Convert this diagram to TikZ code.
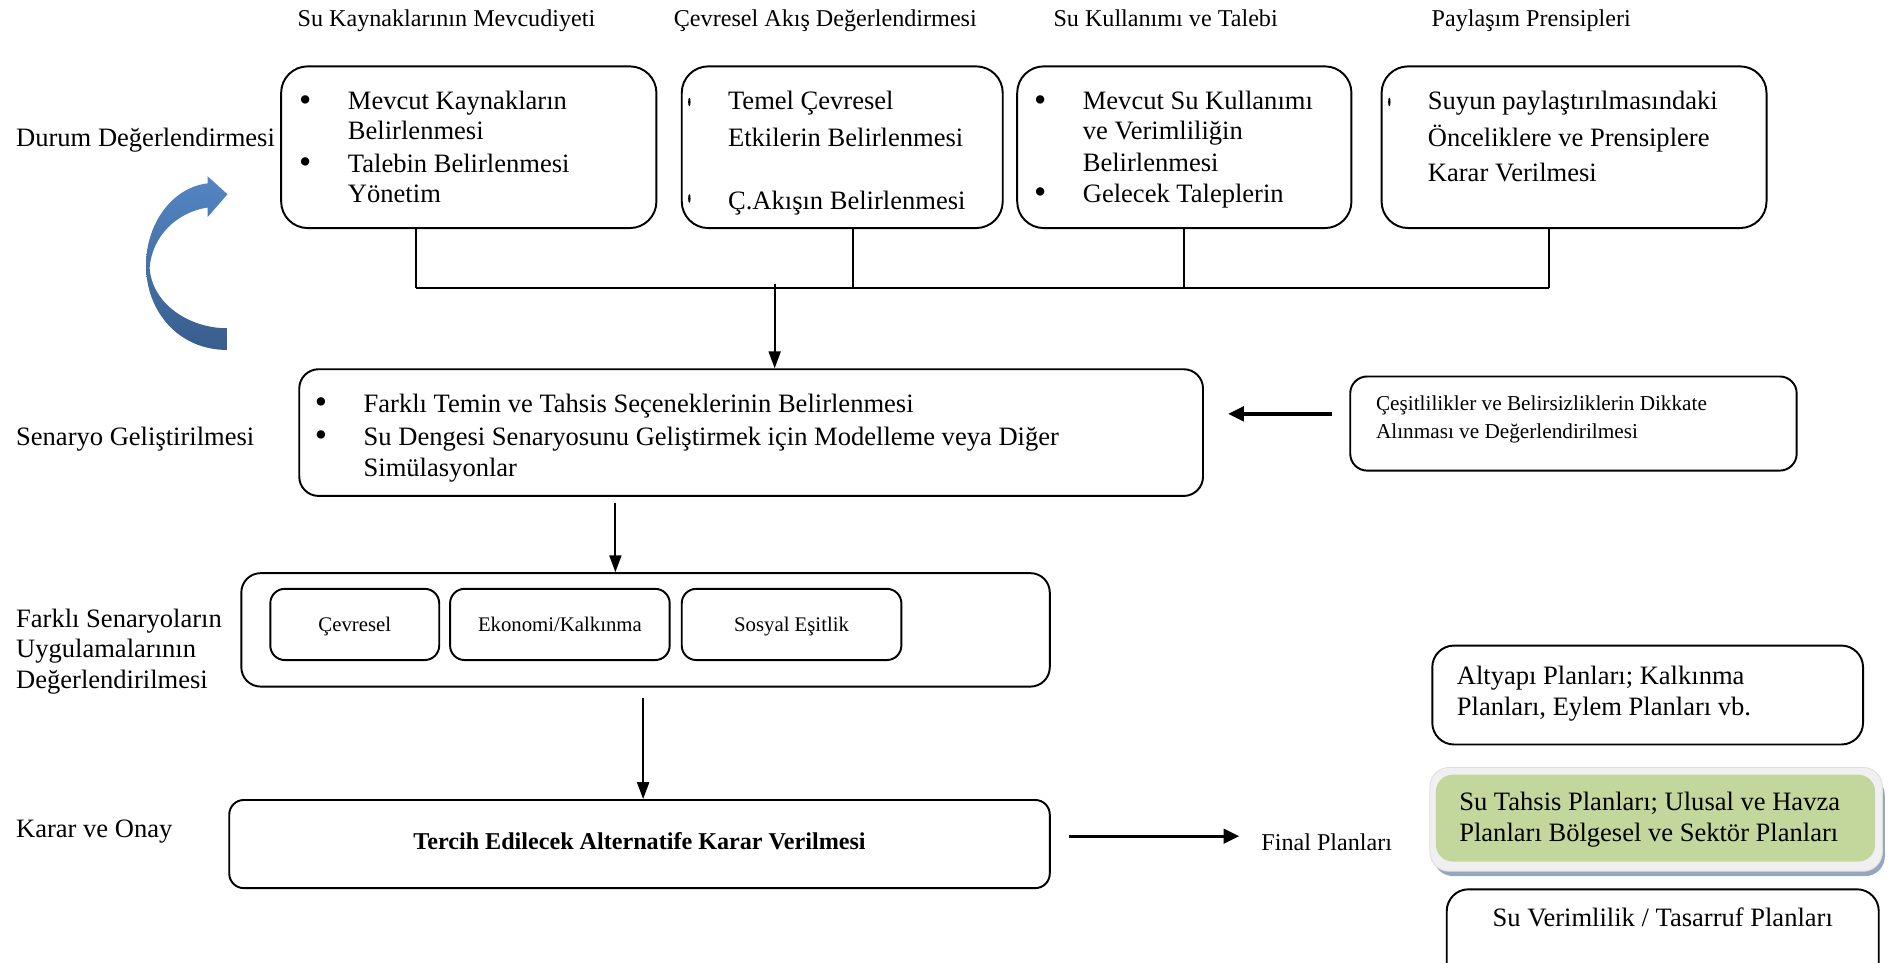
\documentclass[tikz,border=0pt]{standalone}
\usepackage{fontspec}
\setmainfont{Liberation Serif}
\usetikzlibrary{arrows.meta,fit,calc}

\definecolor{planGreen}{RGB}{195,214,155}
\definecolor{planGlow}{RGB}{240,240,240}
\definecolor{planShadow}{RGB}{150,166,188}
\definecolor{cycleLight}{RGB}{84,134,196}
\definecolor{cycleDark}{RGB}{56,93,140}

\begin{document}
\begin{tikzpicture}[x=0.5pt,y=-0.5pt,
  frame/.style={draw=black,line width=0.8pt,rounded corners=#1,inner sep=0pt},
  frame/.default=10pt,
  bodytext/.style={anchor=base west,inner sep=0pt,font=\fontsize{11}{13}\selectfont},
  bulletmark/.style={anchor=base,inner sep=0pt,font=\fontsize{14.5}{14}\selectfont},
  headtext/.style={anchor=base,inner sep=0pt,font=\fontsize{10}{12}\selectfont},
  smalltext/.style={anchor=base west,inner sep=0pt,font=\fontsize{8.8}{10}\selectfont},
  celltext/.style={anchor=base,inner sep=0pt,font=\fontsize{8.6}{10}\selectfont},
  link/.style={line width=0.8pt},
  arr/.style={line width=0.8pt,-{Triangle[length=7pt,width=5pt]}},
  arrthick/.style={line width=1.4pt,-{Triangle[length=6.5pt,width=6pt]}}]

\useasboundingbox (0,0) rectangle (1568,798);
\clip (0,0) rectangle (1568,798);

% ---- column headings ----
\node[headtext] (h1) at (370,22) {Su Kaynaklarının Mevcudiyeti};
\node[headtext] (h2) at (684,22) {Çevresel Akış Değerlendirmesi};
\node[headtext] (h3) at (966,22) {Su Kullanımı ve Talebi};
\node[headtext] (h4) at (1269,22) {Paylaşım Prensipleri};

% ---- row labels ----
\node[bodytext] (r1) at (13,121) {Durum Değerlendirmesi};
\node[bodytext] (r2) at (13,369) {Senaryo Geliştirilmesi};
\node[bodytext] (r3a) at (13,520) {Farklı Senaryoların};
\node[bodytext] (r3b) at (13,545) {Uygulamalarının};
\node[bodytext] (r3c) at (13,571) {Değerlendirilmesi};
\node[bodytext] (r4) at (13,694) {Karar ve Onay};

% ---- curved cycle arrow ----
\shade[top color=cycleLight,bottom color=cycleDark]
  (172,152) -- (172,146) -- (188.5,161) -- (172,180) -- (172,172)
  .. controls (146,176) and (126,196) .. (124,222)
  .. controls (126,252) and (157,272) .. (188,272)
  -- (188,290)
  .. controls (148,290) and (121,258) .. (121,220)
  .. controls (121,184) and (144,155) .. (172,152) -- cycle;

% ---- situation assessment boxes ----
\node[frame=11pt,fit={(233,55) (544,189)}] (kaynak) {};
\node[bulletmark] (k1b) at (253,92) {\textbullet};
\node[bodytext] (k1) at (288,91) {Mevcut Kaynakların};
\node[bodytext] (k2) at (288,116) {Belirlenmesi};
\node[bulletmark] (k3b) at (253,144) {\textbullet};
\node[bodytext] (k3) at (288,143) {Talebin Belirlenmesi};
\node[bodytext] (k4) at (288,168) {Yönetim};

\node[frame=11pt,fit={(565,55) (831,189)}] (cevre) {};
\fill (571.3,84.5) ellipse [x radius=0.5pt,y radius=1.8pt];
\fill (571.3,164.5) ellipse [x radius=0.5pt,y radius=1.8pt];
\node[bodytext] (c1) at (603,91) {Temel Çevresel};
\node[bodytext] (c2) at (603,121) {Etkilerin Belirlenmesi};
\node[bodytext] (c3) at (603,174) {Ç.Akışın Belirlenmesi};

\node[frame=11pt,fit={(843,55) (1120,189)}] (kullanim) {};
\node[bulletmark] (u1b) at (862,92) {\textbullet};
\node[bodytext] (u1) at (897,91) {Mevcut Su Kullanımı};
\node[bodytext] (u2) at (897,116) {ve Verimliliğin};
\node[bodytext] (u3) at (897,142) {Belirlenmesi};
\node[bulletmark] (u4b) at (862,169) {\textbullet};
\node[bodytext] (u4) at (897,168) {Gelecek Taleplerin};

\node[frame=11pt,fit={(1145,55) (1464,189)}] (paylasim) {};
\fill (1151.4,84.5) ellipse [x radius=0.5pt,y radius=1.8pt];
\node[bodytext] (p1) at (1183,91) {Suyun paylaştırılmasındaki};
\node[bodytext] (p2) at (1183,121) {Önceliklere ve Prensiplere};
\node[bodytext] (p3) at (1183,150) {Karar Verilmesi};

% ---- collecting bus ----
\coordinate (bus1) at (345,239);
\coordinate (bus2) at (707,239);
\coordinate (bus3) at (981,239);
\coordinate (bus4) at (1284,239);
\coordinate (busdrop) at (642,235);
\draw[link] (kaynak.south -| bus1) -- (bus1);
\draw[link] (cevre.south -| bus2) -- (bus2);
\draw[link] (kullanim.south -| bus3) -- (bus3);
\draw[link] (paylasim.south -| bus4) -- (bus4);
\draw[link] (bus1) -- (bus4);

% ---- scenario development ----
\node[frame=8pt,fit={(248,306) (997,411)}] (senaryo) {};
\node[bulletmark] (s1b) at (266,343) {\textbullet};
\node[bodytext] (s1) at (301,342) {Farklı Temin ve Tahsis Seçeneklerinin Belirlenmesi};
\node[bulletmark] (s2b) at (266,370) {\textbullet};
\node[bodytext] (s2) at (301,369) {Su Dengesi Senaryosunu Geliştirmek için Modelleme veya Diğer};
\node[bodytext] (s3) at (301,395) {Simülasyonlar};
\draw[arr] (busdrop) -- (senaryo.north -| busdrop);

\node[frame=7pt,fit={(1119,312) (1489,390)}] (cesit) {};
\node[smalltext] (e1) at (1140,340) {Çeşitlilikler ve Belirsizliklerin Dikkate};
\node[smalltext] (e2) at (1140,363) {Alınması ve Değerlendirilmesi};
\coordinate (cy) at (0,343);
\draw[arrthick,shorten <=7pt,shorten >=10pt] (cesit.west |- cy) -- (senaryo.east |- cy);

% ---- scenario evaluation ----
\node[frame=8pt,fit={(200,475) (870,569)}] (etki) {};
\node[frame=6pt,fit={(224,488) (364,547)}] (cvr) {};
\node[frame=6pt,fit={(373,488) (555,547)}] (eko) {};
\node[frame=6pt,fit={(565,488) (747,547)}] (sos) {};
\node[celltext] (cvrt) at (294,523) {Çevresel};
\node[celltext] (ekot) at (464,523) {Ekonomi/Kalkınma};
\node[celltext] (sost) at (656,523) {Sosyal Eşitlik};
\coordinate (sx) at (510,0);
\draw[arr,shorten <=2.5pt] (senaryo.south -| sx) -- (etki.north -| sx);

% ---- decision ----
\node[frame=6pt,fit={(190,663) (870,736)}] (karar) {};
\node[anchor=base,inner sep=0pt,font=\fontsize{10}{12}\selectfont\bfseries] (karart) at (530,704) {Tercih Edilecek Alternatife Karar Verilmesi};
\coordinate (kx) at (533,0);
\draw[arr,shorten <=4.5pt] (etki.south -| kx) -- (karar.north -| kx);

\node[anchor=base west,inner sep=0pt,font=\fontsize{10}{12}\selectfont] (final) at (1045,705) {Final Planları};
\coordinate (fy) at (0,693);
\draw[arrthick,shorten <=7.5pt,shorten >=9pt] (karar.east |- fy) -- (final.west |- fy);

% ---- resulting plans ----
\node[frame=9pt,fit={(1187,535) (1544,617)}] (altyapi) {};
\node[bodytext] (a1) at (1207,567) {Altyapı Planları; Kalkınma};
\node[bodytext] (a2) at (1207,593) {Planları, Eylem Planları vb.};

\fill[planShadow,rounded corners=8pt] (1188,643) rectangle (1562,726);
\node[fill=planGlow,draw=black!12,line width=0.4pt,rounded corners=8pt,inner sep=0pt,fit={(1185,636) (1560,722)}] (tahsisglow) {};
\node[fill=planGreen,rounded corners=7pt,inner sep=0pt,fit={(1190,642) (1554,714)}] (tahsis) {};
\node[bodytext] (t1) at (1209,672) {Su Tahsis Planları; Ulusal ve Havza};
\node[bodytext] (t2) at (1209,697) {Planları Bölgesel ve Sektör Planları};

\node[frame=9pt,fit={(1199,737) (1557,830)}] (verim) {};
\node[bodytext,anchor=base] (v1) at (1378,768) {Su Verimlilik / Tasarruf Planları};

\end{tikzpicture}
\end{document}
